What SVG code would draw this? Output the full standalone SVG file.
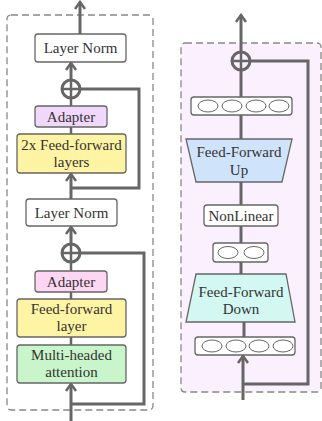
<svg xmlns="http://www.w3.org/2000/svg" width="322" height="421" viewBox="0 0 322 421">
<defs>
<style>
.box{stroke:#666;stroke-width:1.3}
.t{font-family:"Liberation Serif","DejaVu Serif",serif;font-size:15px;fill:#333;text-anchor:middle}
.c{fill:none;stroke:#666;stroke-width:3}
.thin{fill:none;stroke:#666;stroke-width:2.5}
.dash{stroke:#888;stroke-width:1.3;stroke-dasharray:7,4}
.el{fill:#fff;stroke:#666;stroke-width:1}
</style>
<marker id="ah" viewBox="0 0 10 12" refX="8" refY="6" markerWidth="10" markerHeight="12" markerUnits="userSpaceOnUse" orient="auto">
<path d="M1,1 L8,6 L1,11" fill="none" stroke="#666" stroke-width="2.5"/>
</marker>
</defs>
<rect x="0" y="0" width="322" height="421" fill="#fff"/>
<g id="left-panel"><rect class="dash" x="7" y="15" width="146" height="395" rx="4" fill="#fff"/></g>
<g id="right-panel"><rect class="dash" x="181" y="43" width="140" height="349" rx="4" fill="#fbf0fd"/></g>
<g id="connectors">
<line class="c" x1="80" y1="34" x2="80" y2="2" marker-end="url(#ah)"/>
<line class="c" x1="71" y1="80" x2="71" y2="63" marker-end="url(#ah)"/>
<line class="thin" x1="71" y1="98" x2="71" y2="106"/>
<line class="thin" x1="71" y1="127" x2="71" y2="134"/>
<line class="c" x1="71" y1="199" x2="71" y2="174" marker-end="url(#ah)"/>
<path class="c" d="M71,188 H139 V89 H80"/>
<line class="c" x1="71" y1="244" x2="71" y2="227" marker-end="url(#ah)"/>
<line class="thin" x1="71" y1="262" x2="71" y2="271"/>
<line class="thin" x1="71" y1="292" x2="71" y2="299"/>
<line class="thin" x1="71" y1="337" x2="71" y2="345"/>
<line class="c" x1="71" y1="421" x2="71" y2="384" marker-end="url(#ah)"/>
<path class="c" d="M71,404 H144 V253 H80"/>
<line class="c" x1="241" y1="52" x2="241" y2="15" marker-end="url(#ah)"/>
<line class="c" x1="241" y1="70" x2="241" y2="97"/>
<line class="c" x1="241" y1="115" x2="241" y2="139"/>
<line class="c" x1="241" y1="182" x2="241" y2="205"/>
<line class="c" x1="241" y1="226" x2="241" y2="243"/>
<line class="c" x1="241" y1="262" x2="241" y2="274"/>
<line class="c" x1="244" y1="322" x2="244" y2="337"/>
<line class="c" x1="243" y1="400" x2="243" y2="356" marker-end="url(#ah)"/>
<path class="c" d="M243,384 H308 V61 H250"/>
</g>
<g id="layernorm1"><rect class="box" x="35" y="34" width="91" height="28" rx="3" fill="#fff"/><text class="t" x="80.5" y="53">Layer Norm</text></g>
<g id="add1"><circle class="c" cx="71" cy="89" r="9" fill="#fff"/><path class="thin" d="M62,89 H80 M71,80 V98"/></g>
<g id="adapter1"><rect class="box" x="35" y="106" width="72" height="21" rx="3" fill="#f0d8fa"/><text class="t" x="71" y="121.5">Adapter</text></g>
<g id="ff2x"><rect class="box" x="17" y="134" width="109" height="39" rx="3" fill="#fff4a3"/><text class="t" x="71.5" y="150">2x Feed-forward</text><text class="t" x="71.5" y="167">layers</text></g>
<g id="layernorm2"><rect class="box" x="26" y="199" width="91" height="27" rx="3" fill="#fff"/><text class="t" x="71.5" y="217.5">Layer Norm</text></g>
<g id="add2"><circle class="c" cx="71" cy="253" r="9" fill="#fff"/><path class="thin" d="M62,253 H80 M71,244 V262"/></g>
<g id="adapter2"><rect class="box" x="35" y="271" width="72" height="21" rx="3" fill="#fcd6f2"/><text class="t" x="71" y="286.5">Adapter</text></g>
<g id="ff"><rect class="box" x="17" y="299" width="109" height="38" rx="3" fill="#fff4a3"/><text class="t" x="71.5" y="314">Feed-forward</text><text class="t" x="71.5" y="331">layer</text></g>
<g id="mha"><rect class="box" x="17" y="345" width="109" height="38" rx="3" fill="#c8f5ca"/><text class="t" x="71.5" y="360">Multi-headed</text><text class="t" x="71.5" y="377">attention</text></g>
<g id="add3"><circle class="c" cx="241" cy="61" r="9" fill="#fbf0fd"/><path class="thin" d="M232,61 H250 M241,52 V70"/></g>
<g id="vec4top"><rect class="box" x="191" y="97" width="101" height="18" rx="3" fill="#fff"/><ellipse class="el" cx="208" cy="106" rx="10" ry="6"/><ellipse class="el" cx="232" cy="106" rx="10" ry="6"/><ellipse class="el" cx="256" cy="106" rx="10" ry="6"/><ellipse class="el" cx="279" cy="106" rx="10" ry="6"/></g>
<g id="ffup"><path class="box" d="M186,139 L292,139 L282,182 L196,182 Z" fill="#cfe4fb"/><text class="t" x="239" y="157">Feed-Forward</text><text class="t" x="239" y="175">Up</text></g>
<g id="nonlinear"><rect class="box" x="204" y="205" width="74" height="21" rx="3" fill="#fff"/><text class="t" x="241" y="220.5">NonLinear</text></g>
<g id="vec2"><rect class="box" x="213" y="243" width="55" height="19" rx="3" fill="#fff"/><ellipse class="el" cx="228" cy="252.5" rx="10" ry="6"/><ellipse class="el" cx="254" cy="252.5" rx="10" ry="6"/></g>
<g id="ffdown"><path class="box" d="M196,274 L286,274 L295,322 L186,322 Z" fill="#d3f8f1"/><text class="t" x="241" y="297">Feed-Forward</text><text class="t" x="241" y="314">Down</text></g>
<g id="vec4bottom"><rect class="box" x="195" y="337" width="100" height="18" rx="3" fill="#fff"/><ellipse class="el" cx="212" cy="346" rx="10" ry="6"/><ellipse class="el" cx="236" cy="346" rx="10" ry="6"/><ellipse class="el" cx="259" cy="346" rx="10" ry="6"/><ellipse class="el" cx="283" cy="346" rx="10" ry="6"/></g>
</svg>
